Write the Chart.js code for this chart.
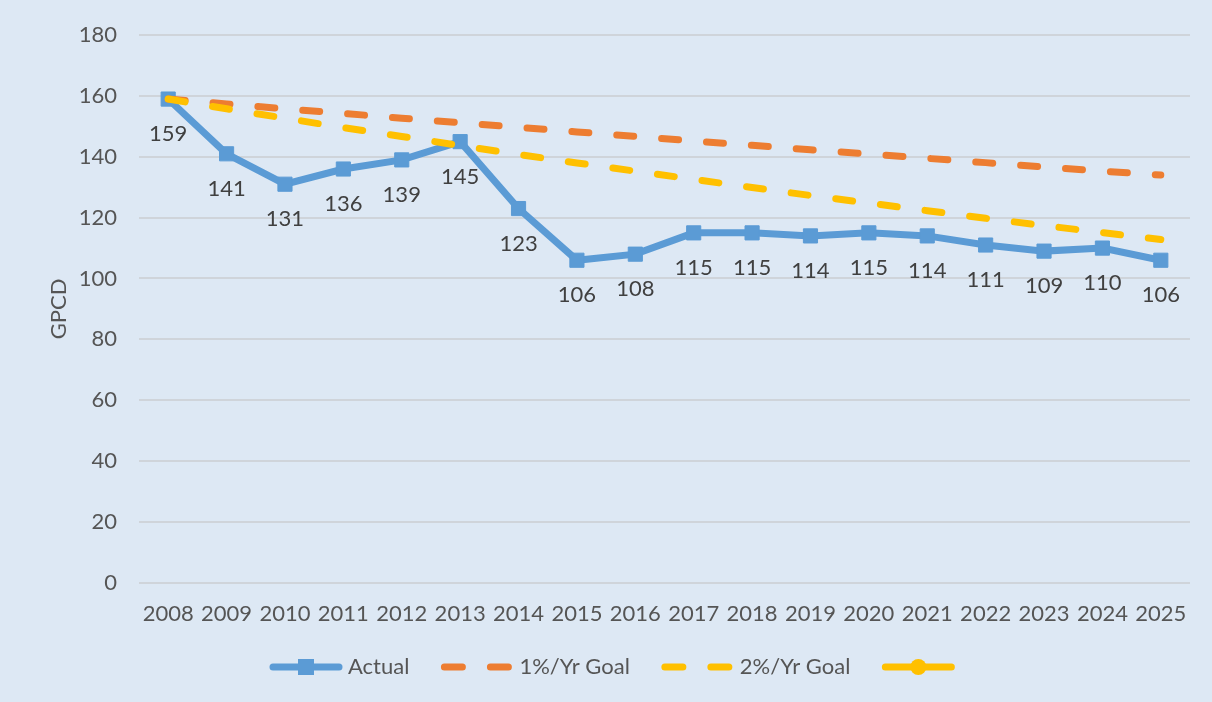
<!DOCTYPE html>
<html>
<head>
<meta charset="utf-8">
<title>GPCD</title>
<script src="https://cdn.jsdelivr.net/npm/chart.js@4.4.1/dist/chart.umd.min.js"></script>
<style>
  html, body { margin: 0; padding: 0; background: #dde8f4; }
  #wrap { width: 1212px; height: 702px; position: relative; }
</style>
</head>
<body>
<div id="wrap"><canvas id="gpcdChart"></canvas></div>
<script>
// 연도별 GPCD 값
const years = ['2008', '2009', '2010', '2011', '2012', '2013', '2014', '2015', '2016',
               '2017', '2018', '2019', '2020', '2021', '2022', '2023', '2024', '2025'];
const actual = [159, 141, 131, 136, 139, 145, 123, 106, 108, 115, 115, 114, 115, 114, 111, 109, 110, 106];
const goal1 = [159, 157.4, 155.8, 154.3, 152.7, 151.2, 149.7, 148.2, 146.7,
               145.2, 143.8, 142.3, 140.9, 139.5, 138.1, 136.7, 135.3, 134.0];
const goal2 = [159, 155.8, 152.7, 149.6, 146.7, 143.7, 140.8, 138.0, 135.3,
               132.6, 129.9, 127.3, 124.8, 122.3, 119.8, 117.4, 115.1, 112.8];
const seriesNames = ['Actual', '1%/Yr Goal', '2%/Yr Goal', ''];

const FONT = 'Lato, "Open Sans", sans-serif';
const TEXT = '#555555';

// Actual 값 라벨 (점 아래)
const pointLabels = {
    id: 'pointLabels',
    afterDatasetsDraw(chart) {
        const ctx = chart.ctx;
        const meta = chart.getDatasetMeta(0);
        ctx.save();
        ctx.font = '22px ' + FONT;
        ctx.fillStyle = '#404040';
        ctx.textAlign = 'center';
        ctx.textBaseline = 'middle';
        meta.data.forEach((pt, i) => {
            ctx.fillText(String(actual[i]), pt.x, pt.y + 35);
        });
        ctx.restore();
    }
};

// 하단 범례 (선 + 마커), 가운데 정렬
const lineLegend = {
    id: 'lineLegend',
    afterDraw(chart) {
        const ctx = chart.ctx;
        const y = 667;
        const sample = 74, textGap = 5, itemGap = 31;
        ctx.save();
        ctx.font = '22px ' + FONT;
        ctx.textBaseline = 'middle';
        const items = chart.data.datasets;
        let total = 0;
        items.forEach((ds, i) => {
            total += sample;
            if (ds.label) total += textGap + ctx.measureText(ds.label).width;
            if (i < items.length - 1) total += itemGap;
        });
        let x = Math.round((chart.width - total) / 2) + 6;
        items.forEach(ds => {
            ctx.strokeStyle = ds.borderColor;
            ctx.lineWidth = 7;
            ctx.lineCap = 'round';
            ctx.setLineDash(ds.borderDash ? [18, 28] : []);
            ctx.beginPath();
            ctx.moveTo(x + 4, y);
            ctx.lineTo(x + sample - 4, y);
            ctx.stroke();
            ctx.setLineDash([]);
            ctx.fillStyle = ds.borderColor;
            if (ds.pointStyle === 'rect') {
                ctx.fillRect(x + sample / 2 - 8, y - 8, 16, 16);
            } else if (ds.pointStyle === 'circle') {
                ctx.beginPath();
                ctx.arc(x + sample / 2, y, 8, 0, Math.PI * 2);
                ctx.fill();
            }
            x += sample;
            if (ds.label) {
                x += textGap;
                ctx.fillStyle = TEXT;
                ctx.textAlign = 'left';
                ctx.fillText(ds.label, x, y);
                x += ctx.measureText(ds.label).width;
            }
            x += itemGap;
        });
        ctx.restore();
    }
};

new Chart(document.getElementById('gpcdChart'), {
    type: 'line',
    data: {
        labels: years,
        datasets: [
            {
                label: seriesNames[0],
                data: actual,
                borderColor: '#5b9bd5',
                backgroundColor: '#5b9bd5',
                borderWidth: 7,
                pointStyle: 'rect',
                pointRadius: 10,
                pointBorderWidth: 1,
                tension: 0,
                order: 3
            },
            {
                label: seriesNames[1],
                data: goal1,
                borderColor: '#ed7d31',
                borderWidth: 7,
                borderDash: [17, 28],
                borderCapStyle: 'round',
                pointRadius: 0,
                order: 2
            },
            {
                label: seriesNames[2],
                data: goal2,
                borderColor: '#ffc000',
                borderWidth: 7,
                borderDash: [17, 28],
                borderCapStyle: 'round',
                pointRadius: 0,
                order: 1
            },
            {
                label: seriesNames[3],
                data: [],
                borderColor: '#ffc000',
                backgroundColor: '#ffc000',
                borderWidth: 7,
                pointStyle: 'circle',
                order: 0
            }
        ]
    },
    options: {
        responsive: true,
        maintainAspectRatio: false,
        animation: false,
        layout: { padding: { left: 40, right: 22, top: 27, bottom: 65 } },
        plugins: {
            legend: { display: false },
            tooltip: { enabled: false }
        },
        scales: {
            x: {
                offset: true,
                grid: { display: false },
                border: { display: false },
                ticks: { color: TEXT, font: { family: FONT, size: 22 }, padding: 10, maxRotation: 0, autoSkip: false }
            },
            y: {
                min: 0,
                max: 180,
                afterFit(scale) { scale.width = 99; },
                ticks: { stepSize: 20, color: TEXT, font: { family: FONT, size: 22 }, padding: 22 },
                grid: { color: '#cfd4da', lineWidth: 2, drawTicks: false },
                border: { display: false },
                title: { display: true, text: 'GPCD', color: TEXT, font: { family: FONT, size: 22 }, padding: 6 }
            }
        }
    },
    plugins: [pointLabels, lineLegend]
});
</script>
</body>
</html>
